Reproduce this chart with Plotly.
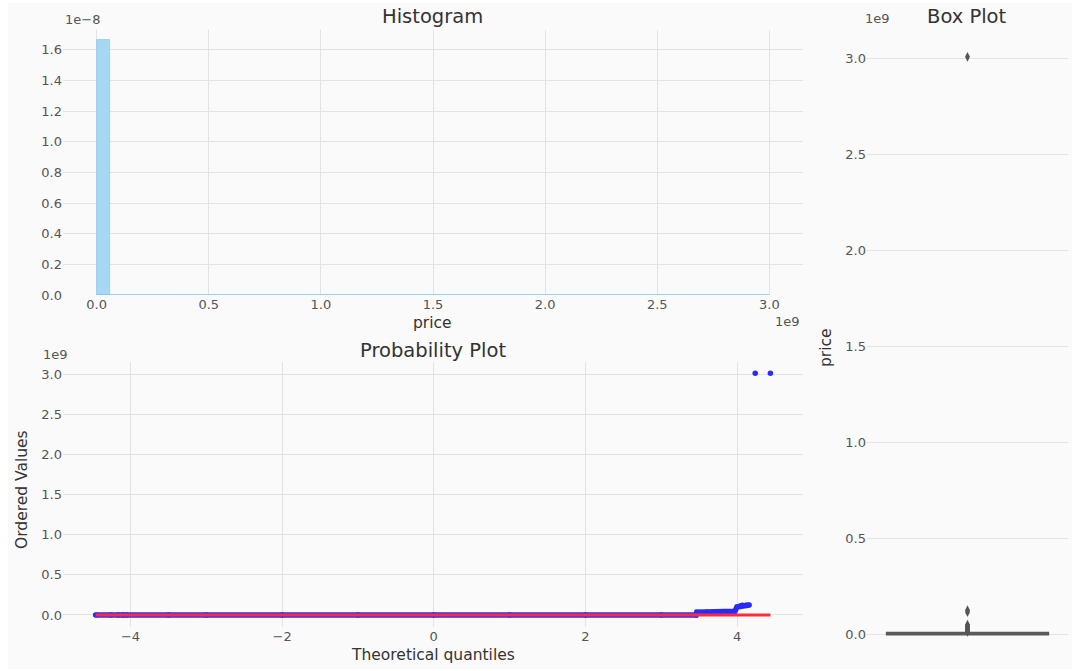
import plotly.graph_objects as go

W = 1072
REF_H = 671          # reference pixel grid used for positioning
H = 679              # rendered figure height (compensates vertical squeeze)

# ---------------- data ----------------
# Histogram (price in units of 1e9, density in units of 1e-8)
hist_bin_left = [0.0]
hist_bin_width = [0.06]
hist_density = [1.665]
hist_baseline_x = [0.0, 3.0]
hist_baseline_y = [0.0, 0.0]

# Probability plot (theoretical quantiles vs ordered price in 1e9)
qq_theoretical = [-4.46, -4.26, -4.16, -4.10, -4.05, -3.5, -3.0, -2.0, -1.0, 0.0, 1.0, 2.0, 3.0,
                  3.46, 3.47, 3.6, 3.75, 3.9, 3.97, 4.00, 4.04, 4.07, 4.12, 4.16, 4.24, 4.44]
qq_ordered = [0.0, 0.0, 0.0, 0.0, 0.0, 0.0, 0.0, 0.0, 0.0, 0.0, 0.0, 0.0, 0.0,
              0.0, 0.033, 0.034, 0.036, 0.038, 0.045, 0.10, 0.11, 0.12, 0.12, 0.125, 3.01, 3.01]
fit_x = [-4.46, 4.44]
fit_y = [0.0, 0.0]

# Box plot (price in 1e9)
box_q1, box_median, box_q3 = 0.0, 0.002, 0.006
box_lowerfence, box_upperfence = 0.0, 0.01
box_outliers = [3.01, 0.125, 0.115, 0.05, 0.045, 0.04, 0.035, 0.03, 0.025, 0.02, 0.015, 0.012]

hist_xticks = [0.0, 0.5, 1.0, 1.5, 2.0, 2.5, 3.0]
hist_yticks = [0.0, 0.2, 0.4, 0.6, 0.8, 1.0, 1.2, 1.4, 1.6]
qq_xticks = [-4, -2, 0, 2, 4]
price_ticks = [0.0, 0.5, 1.0, 1.5, 2.0, 2.5, 3.0]

# ---------------- helpers ----------------
def px_x(a, b):
    return [a / W, b / W]

def px_y(top, bottom):
    return [1 - bottom / REF_H, 1 - top / REF_H]

FONT = "DejaVu Sans"
TICK = dict(family=FONT, size=13, color="#555555")
GRID = "#e3e3e3"
BG = "#fafafa"

fig = go.Figure()

# Histogram
fig.add_trace(go.Bar(
    x=[l + w / 2 for l, w in zip(hist_bin_left, hist_bin_width)],
    y=hist_density, width=hist_bin_width,
    marker=dict(color="#a6d8f2", line=dict(color="#8ccbed", width=0.8)),
    xaxis="x", yaxis="y", showlegend=False, hoverinfo="skip"))
fig.add_trace(go.Scatter(
    x=hist_baseline_x, y=hist_baseline_y, mode="lines",
    line=dict(color="#7fc3ea", width=1.5),
    xaxis="x", yaxis="y", showlegend=False, hoverinfo="skip"))

# Probability plot
band_x = [x for x, y in zip(qq_theoretical, qq_ordered) if y < 1]
band_y = [y for y in qq_ordered if y < 1]
fig.add_trace(go.Scatter(
    x=band_x, y=band_y, mode="lines",
    line=dict(color="#2a2aff", width=5.5),
    xaxis="x2", yaxis="y2", showlegend=False, hoverinfo="skip"))
fig.add_trace(go.Scatter(
    x=qq_theoretical, y=qq_ordered, mode="markers",
    marker=dict(color="#2a2aff", size=5.5),
    xaxis="x2", yaxis="y2", showlegend=False, hoverinfo="skip"))
fig.add_trace(go.Scatter(
    x=fit_x, y=fit_y, mode="lines",
    line=dict(color="#ff2a3a", width=3),
    xaxis="x2", yaxis="y2", showlegend=False, hoverinfo="skip"))

# Box plot
fig.add_trace(go.Box(
    x=[0], q1=[box_q1], median=[box_median], q3=[box_q3],
    lowerfence=[box_lowerfence], upperfence=[box_upperfence],
    width=0.8, whiskerwidth=0, fillcolor="#5a5a5a",
    line=dict(color="#5a5a5a", width=2.5),
    boxpoints=False, xaxis="x3", yaxis="y3", showlegend=False, hoverinfo="skip"))
fig.add_trace(go.Scatter(
    x=[0] * len(box_outliers), y=box_outliers, mode="markers",
    marker=dict(symbol="diamond-tall", color="#555555", size=7),
    xaxis="x3", yaxis="y3", showlegend=False, hoverinfo="skip"))

axis_common = dict(showline=False, zeroline=False, ticks="", tickfont=TICK,
                   gridcolor=GRID, gridwidth=1)
axis_nogrid = dict(showline=False, zeroline=False, ticks="", tickfont=TICK)

fig.update_layout(
    width=W, height=H,
    margin=dict(l=0, r=0, t=0, b=0),
    paper_bgcolor="white", plot_bgcolor=BG,
    font=dict(family=FONT),
    bargap=0,
    xaxis=dict(domain=px_x(63, 803), range=[-0.15, 3.15], tickvals=hist_xticks,
               ticktext=[f"{v:.1f}" for v in hist_xticks], anchor="y", **axis_common),
    yaxis=dict(domain=px_y(30, 295), range=[0, 1.73], tickvals=hist_yticks,
               ticktext=[f"{v:.1f}" for v in hist_yticks], anchor="x", **axis_common),
    xaxis2=dict(domain=px_x(63, 803), range=[-4.89, 4.87], tickvals=qq_xticks,
                ticktext=[str(v).replace("-", "\u2212") for v in qq_xticks], anchor="y2", **axis_common),
    yaxis2=dict(domain=px_y(362, 627), range=[-0.15, 3.15], tickvals=price_ticks,
                ticktext=[f"{v:.1f}" for v in price_ticks], anchor="x2", **axis_common),
    xaxis3=dict(domain=px_x(867, 1068), range=[-0.5, 0.5], showticklabels=False,
                showgrid=False, anchor="y3", **axis_nogrid),
    yaxis3=dict(domain=px_y(30, 663), range=[-0.15, 3.15], tickvals=price_ticks,
                ticktext=[f"{v:.1f}" for v in price_ticks], anchor="x3", **axis_common),
)

fig.add_shape(type="rect", xref="paper", yref="paper", x0=8 / W, x1=1,
              y0=1 - 669 / REF_H, y1=1 - 3 / REF_H,
              fillcolor=BG, line=dict(width=0), layer="below")

def ann(text, x, y, size, color="#333333", angle=0):
    fig.add_annotation(text=text, x=x / W, y=1 - y / REF_H, xref="paper", yref="paper",
                       showarrow=False, xanchor="center", yanchor="middle", textangle=angle,
                       font=dict(family=FONT, size=size, color=color))

ann("Histogram", 432, 17, 19.5)
ann("Box Plot", 967, 17, 19.5)
ann("Probability Plot", 433, 350, 19.5)
ann("price", 432, 323, 15.5)
ann("Theoretical quantiles", 433, 655, 15.5)
ann("Ordered Values", 22, 490, 15.5, angle=-90)
ann("price", 826, 348, 15.5, angle=-90)
ann("1e\u22128", 82, 20, 13, "#555555")
ann("1e9", 787, 321, 13, "#555555")
ann("1e9", 877, 18, 13, "#555555")
ann("1e9", 55, 354, 13, "#555555")

fig.write_html("out.html")
